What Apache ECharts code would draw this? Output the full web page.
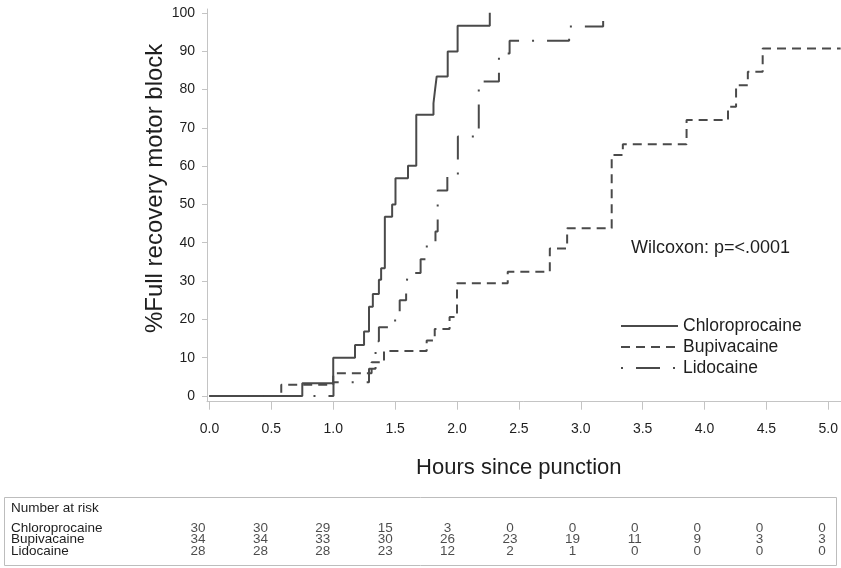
<!DOCTYPE html>
<html>
<head>
<meta charset="utf-8">
<script src="https://cdn.jsdelivr.net/npm/echarts@6/dist/echarts.min.js"></script>
<style>
html,body{margin:0;padding:0;background:#fff;}
#c{width:841px;height:568px;}
</style>
</head>
<body>
<div id="c"></div>
<script>
// ---- Data (hours since punction, % full recovery) ----
const chloroT = [0, 0.75, 1.0, 1.176, 1.249, 1.289, 1.32, 1.369, 1.387, 1.417, 1.476, 1.503, 1.604, 1.671, 1.81, 1.824, 1.836, 1.925, 2.005, 2.265];
const chloroY = [0, 3.3, 10.0, 13.3, 16.8, 23.3, 26.6, 30.3, 33.3, 46.8, 50.0, 56.8, 60.1, 73.4, 76.4, 80.3, 83.4, 89.9, 96.6, 100];

const bupiT = [0, 0.58, 1.0, 1.31, 1.41, 1.755, 1.82, 1.94, 2.0, 2.41, 2.75, 2.89, 3.25, 3.34, 3.855, 4.19, 4.255, 4.35, 4.47, 5.1];
const bupiY = [0, 2.94, 5.9, 8.8, 11.76, 14.5, 17.5, 20.6, 29.4, 32.4, 38.5, 43.8, 62.9, 65.7, 72.0, 75.5, 81.1, 84.6, 90.7, 90.7];

const lidoT = [0, 1.002, 1.289, 1.342, 1.369, 1.50, 1.537, 1.589, 1.604, 1.706, 1.756, 1.826, 1.844, 1.922, 2.007, 2.176, 2.339, 2.425, 2.906, 3.181];
const lidoY = [0, 3.6, 7.1, 14.3, 17.9, 21.4, 25.0, 28.6, 32.1, 35.7, 39.3, 42.9, 53.6, 57.3, 67.7, 82.1, 89.4, 92.7, 96.4, 100];

const seriesNames = ['Chloroprocaine', 'Bupivacaine', 'Lidocaine'];

const xTicks = [0, 0.5, 1.0, 1.5, 2.0, 2.5, 3.0, 3.5, 4.0, 4.5, 5.0];
const yTicks = [0, 10, 20, 30, 40, 50, 60, 70, 80, 90, 100];

// Number at risk table
const riskTimes  = [0, 0.5, 1.0, 1.5, 2.0, 2.5, 3.0, 3.5, 4.0, 4.5, 5.0];
const riskChloro = [30, 30, 29, 15, 3, 0, 0, 0, 0, 0, 0];
const riskBupi   = [34, 34, 33, 30, 26, 23, 19, 11, 9, 3, 3];
const riskLido   = [28, 28, 28, 23, 12, 2, 1, 0, 0, 0, 0];

const pValueText = 'Wilcoxon: p=<.0001';

// ---- Chart ----
const FONT = '"Liberation Sans", Arial, Helvetica, sans-serif';
const INK = '#1e1e1e';
const LINE = '#4a4a4a';
const AXIS = '#c4c4c4';
const DASH_B = [9, 6];
const DASH_L = [2, 13, 24, 13];

const pairs = (t, y) => t.map((v, i) => [v, y[i]]);
const riskData = (arr, row) => riskTimes.map((t, i) => [t, row, arr[i]]);

const chart = echarts.init(document.getElementById('c'), null, {renderer: 'canvas'});

const riskLabel = {show: true, position: 'inside', formatter: p => String(p.value[2]),
                   fontSize: 13.5, color: INK, fontFamily: FONT};

const option = {
  animation: false,
  backgroundColor: '#fff',
  textStyle: {fontFamily: FONT, color: INK},
  grid: [
    {left: 207, top: 9, width: 638, height: 392.7, containLabel: false},
    {left: 198, top: 522.25, width: 624, height: 34.5, containLabel: false}
  ],
  xAxis: [
    {
      gridIndex: 0, type: 'value', min: -0.02, max: 5.1,
      name: 'Hours since punction', nameLocation: 'middle', nameGap: 55,
      nameTextStyle: {fontSize: 22, color: INK, fontFamily: FONT, padding: [0, 10, 0, 0]},
      axisLine: {show: true, onZero: false, lineStyle: {color: AXIS, width: 1}},
      axisTick: {show: true, length: 8, lineStyle: {color: AXIS}, customValues: xTicks},
      axisLabel: {show: true, fontSize: 14, color: INK, margin: 20, customValues: xTicks,
                  formatter: v => v.toFixed(1)},
      splitLine: {show: false}
    },
    {
      gridIndex: 1, type: 'value', min: 0, max: 5, show: false
    }
  ],
  yAxis: [
    {
      gridIndex: 0, type: 'value', min: -1.5, max: 101,
      name: '%Full recovery motor block', nameLocation: 'middle', nameGap: 40,
      nameMoveOverlap: false,
      nameTextStyle: {fontSize: 24, color: INK, fontFamily: FONT, padding: [0, 0, 0, 34]},
      axisLine: {show: true, onZero: false, lineStyle: {color: AXIS, width: 1}},
      axisTick: {show: true, length: 5, lineStyle: {color: AXIS}, customValues: yTicks},
      axisLabel: {show: true, fontSize: 14, color: INK, margin: 12, customValues: yTicks},
      splitLine: {show: false}
    },
    {
      gridIndex: 1, type: 'category', inverse: true, data: seriesNames,
      axisLine: {show: false}, axisTick: {show: false}, splitLine: {show: false},
      axisLabel: {show: true, interval: 0, align: 'left', margin: 187, fontSize: 13.5, color: INK, fontFamily: FONT}
    }
  ],
  legend: {
    data: [
      {name: 'Chloroprocaine'},
      {name: 'Bupivacaine', lineStyle: {type: DASH_B}},
      {name: 'Lidocaine', lineStyle: {type: DASH_L}}
    ],
    orient: 'vertical', left: 620, top: 317,
    itemWidth: 57, itemHeight: 14, itemGap: 3,
    itemStyle: {color: 'rgba(0,0,0,0)', borderWidth: 0, opacity: 0},
    textStyle: {fontSize: 17.5, color: INK, fontFamily: FONT},
    padding: 0
  },
  graphic: [
    {type: 'text', left: 631, top: 239,
     style: {text: pValueText, fill: INK, font: '18px ' + FONT}},
    {type: 'rect', shape: {x: 4.5, y: 497.5, width: 832, height: 68},
     style: {fill: 'none', stroke: '#bdbdbd', lineWidth: 1}},
    {type: 'text', left: 11, top: 501,
     style: {text: 'Number at risk', fill: INK, font: '13.5px ' + FONT}}
  ],
  series: [
    {name: 'Chloroprocaine', type: 'line', xAxisIndex: 0, yAxisIndex: 0, step: 'end',
     symbol: 'none', showSymbol: false, data: pairs(chloroT, chloroY),
     lineStyle: {color: LINE, width: 2, type: 'solid'}, itemStyle: {color: LINE}},
    {name: 'Bupivacaine', type: 'line', xAxisIndex: 0, yAxisIndex: 0, step: 'end',
     symbol: 'none', showSymbol: false, data: pairs(bupiT, bupiY),
     lineStyle: {color: LINE, width: 2, type: DASH_B}, itemStyle: {color: LINE}},
    {name: 'Lidocaine', type: 'line', xAxisIndex: 0, yAxisIndex: 0, step: 'end',
     symbol: 'none', showSymbol: false, data: pairs(lidoT, lidoY),
     lineStyle: {color: LINE, width: 2, type: DASH_L}, itemStyle: {color: LINE}},
    {name: 'risk-Chloroprocaine', type: 'scatter', xAxisIndex: 1, yAxisIndex: 1,
     symbolSize: 0, data: riskData(riskChloro, 'Chloroprocaine'), label: riskLabel},
    {name: 'risk-Bupivacaine', type: 'scatter', xAxisIndex: 1, yAxisIndex: 1,
     symbolSize: 0, data: riskData(riskBupi, 'Bupivacaine'), label: riskLabel},
    {name: 'risk-Lidocaine', type: 'scatter', xAxisIndex: 1, yAxisIndex: 1,
     symbolSize: 0, data: riskData(riskLido, 'Lidocaine'), label: riskLabel}
  ]
};
chart.setOption(option);
</script>
</body>
</html>
